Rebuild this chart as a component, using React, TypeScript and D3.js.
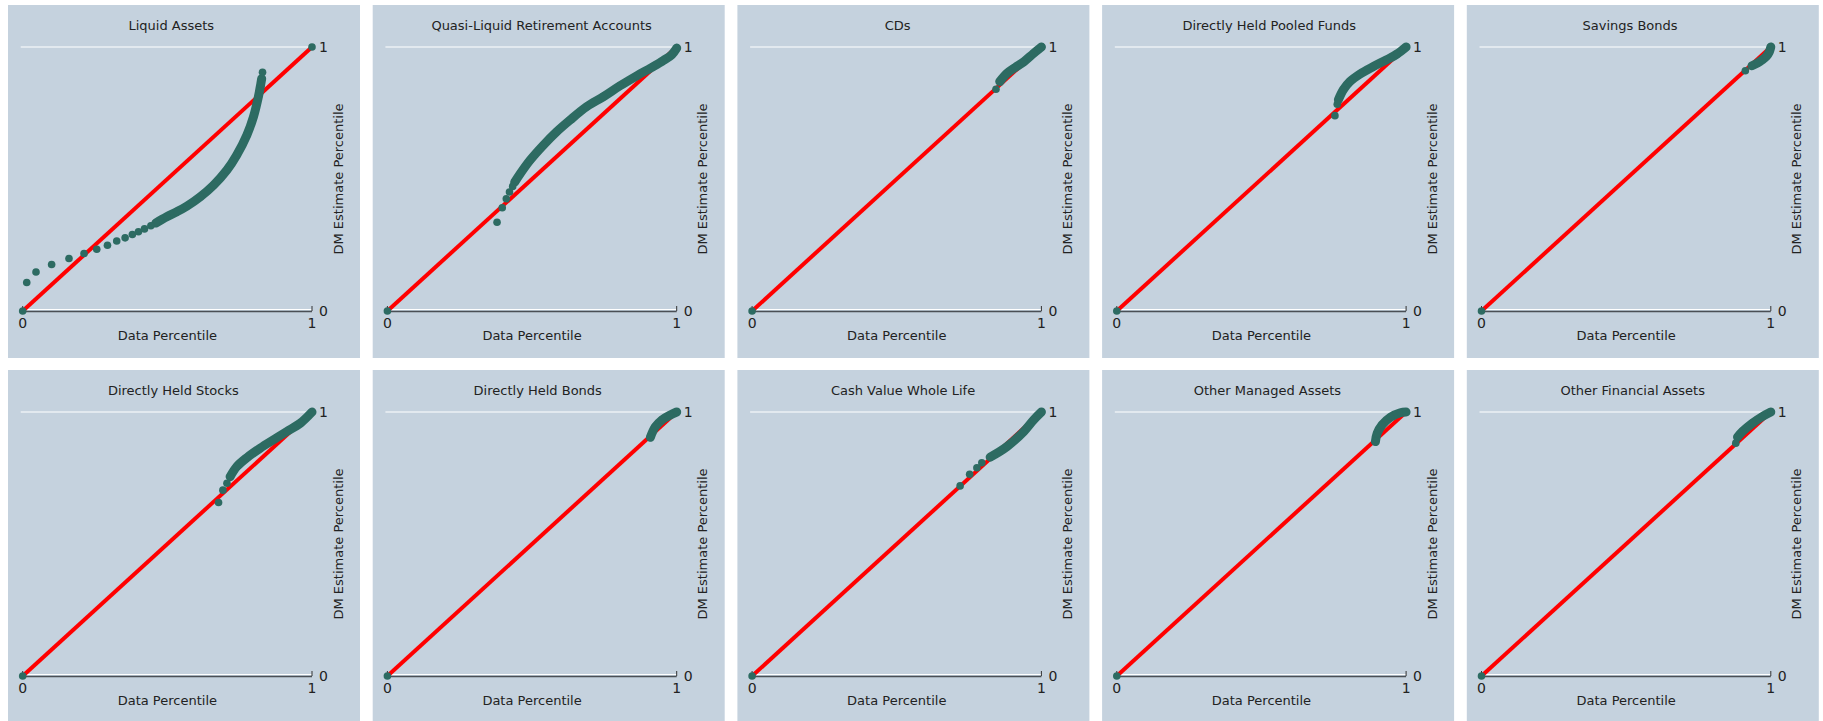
import React from "react";
import * as d3 from "d3";

type Pt = [number, number];

const titles = [
  "Liquid Assets",
  "Quasi-Liquid Retirement Accounts",
  "CDs",
  "Directly Held Pooled Funds",
  "Savings Bonds",
  "Directly Held Stocks",
  "Directly Held Bonds",
  "Cash Value Whole Life",
  "Other Managed Assets",
  "Other Financial Assets",
];

const xTicks = [0, 1];
const yTicks = [0, 1];

// sparse dots and dense runs (data pct, DM estimate pct)
const liquidSparse: Pt[] = [
  [0, 0], [0.014, 0.108], [0.046, 0.148], [0.1, 0.176], [0.16, 0.199], [0.212, 0.218],
  [0.256, 0.234], [0.293, 0.249], [0.325, 0.265], [0.354, 0.277], [0.379, 0.29],
  [0.4, 0.3], [0.421, 0.311], [0.443, 0.323], [0.829, 0.904], [1, 1],
];
const liquidDense: Pt[] = [
  [0.46, 0.333], [0.498, 0.357], [0.533, 0.376], [0.567, 0.397], [0.614, 0.433],
  [0.66, 0.477], [0.706, 0.534], [0.74, 0.591], [0.775, 0.667], [0.798, 0.737],
  [0.815, 0.813], [0.823, 0.86], [0.826, 0.88],
];

const quasiSparse: Pt[] = [
  [0, 0], [0.379, 0.336], [0.397, 0.391], [0.411, 0.425], [0.422, 0.451], [0.433, 0.472],
];
const quasiDense: Pt[] = [
  [0.44, 0.488], [0.459, 0.52], [0.493, 0.571], [0.539, 0.628], [0.585, 0.679],
  [0.631, 0.723], [0.689, 0.774], [0.747, 0.812], [0.804, 0.853], [0.862, 0.891],
  [0.919, 0.926], [0.954, 0.949], [0.983, 0.971], [1, 0.996],
];

const cdsSparse: Pt[] = [[0, 0], [0.843, 0.84]];
const cdsDense: Pt[] = [
  [0.856, 0.869], [0.881, 0.9], [0.91, 0.923], [0.939, 0.944], [0.973, 0.976], [1, 1],
];

const pooledSparse: Pt[] = [[0, 0], [0.754, 0.74], [0.762, 0.783]];
const pooledDense: Pt[] = [
  [0.766, 0.8], [0.783, 0.838], [0.806, 0.869], [0.841, 0.898], [0.887, 0.926],
  [0.933, 0.952], [0.968, 0.973], [1, 1],
];

const savingsSparse: Pt[] = [[0, 0], [0.912, 0.91]];
const savingsDense: Pt[] = [
  [0.935, 0.929], [0.955, 0.94], [0.97, 0.951], [0.985, 0.965], [0.995, 0.982], [1, 1],
];

const stocksSparse: Pt[] = [[0, 0], [0.677, 0.657], [0.692, 0.704], [0.706, 0.73]];
const stocksDense: Pt[] = [
  [0.717, 0.755], [0.74, 0.793], [0.775, 0.827], [0.821, 0.863], [0.867, 0.895],
  [0.913, 0.926], [0.96, 0.958], [1, 1],
];

const bondsSparse: Pt[] = [[0, 0]];
const bondsDense: Pt[] = [
  [0.909, 0.904], [0.926, 0.944], [0.949, 0.97], [0.978, 0.989], [1, 1],
];

const cashSparse: Pt[] = [
  [0, 0], [0.719, 0.72], [0.752, 0.764], [0.777, 0.789], [0.794, 0.808],
];
const cashDense: Pt[] = [
  [0.823, 0.829], [0.881, 0.869], [0.939, 0.926], [0.973, 0.97], [1, 1],
];

const managedSparse: Pt[] = [[0, 0]];
const managedDense: Pt[] = [
  [0.894, 0.888], [0.9, 0.919], [0.917, 0.951], [0.946, 0.98], [0.98, 0.997], [1, 1],
];

const otherSparse: Pt[] = [[0, 0], [0.879, 0.882]];
const otherDense: Pt[] = [
  [0.885, 0.905], [0.902, 0.926], [0.937, 0.958], [0.971, 0.983], [1, 1],
];

const sparseSets = [
  liquidSparse, quasiSparse, cdsSparse, pooledSparse, savingsSparse,
  stocksSparse, bondsSparse, cashSparse, managedSparse, otherSparse,
];
const denseSets = [
  liquidDense, quasiDense, cdsDense, pooledDense, savingsDense,
  stocksDense, bondsDense, cashDense, managedDense, otherDense,
];

const W = 1823;
const H = 721;
const panelW = 352;
const panelH = 353;
const colStep = 364.7;
const rowStep = 365;
const font = "'DejaVu Sans', Verdana, sans-serif";
const dotColor = "#2d6b62";

function Panel({ title, sparse, dense, left, top }: {
  title: string; sparse: Pt[]; dense: Pt[]; left: number; top: number;
}) {
  const x = d3.scaleLinear().domain([0, 1]).range([14.7, 304]);
  const y = d3.scaleLinear().domain([0, 1]).range([306, 42]);
  const line = d3.line<Pt>().x(d => x(d[0])).y(d => y(d[1])).curve(d3.curveCatmullRom);
  const cx = (x(0) + x(1)) / 2;

  return (
    <g transform={`translate(${left},${top})`}>
      <rect width={panelW} height={panelH} fill="#c5d2de" />
      <text x={cx + title.length * 0.3} y={24.5} textAnchor="middle" fontSize={13} fill="#222">
        {title}
      </text>
      {yTicks.map(t => (
        <line key={t} x1={x(0) - 2} x2={x(1)} y1={y(t) - (t === 0 ? 1.5 : 0)} y2={y(t) - (t === 0 ? 1.5 : 0)}
          stroke="#fff" strokeWidth={1.2} />
      ))}
      <line x1={x(0)} x2={x(1)} y1={y(0) + 0.5} y2={y(0) + 0.5} stroke="#4a4f55" strokeWidth={1.6} />
      {xTicks.map(t => (
        <g key={t}>
          <line x1={x(t)} x2={x(t)} y1={y(0)} y2={y(0) - 5} stroke="#333" strokeWidth={1} />
          <text x={x(t)} y={y(0) + 17} textAnchor="middle" fontSize={14} fill="#222">{t}</text>
        </g>
      ))}
      {yTicks.map(t => (
        <text key={t} x={x(1) + 7} y={y(t)} dominantBaseline="central" fontSize={14} fill="#222">{t}</text>
      ))}
      <text x={cx} y={y(0) + 28.5} textAnchor="middle" fontSize={13} fill="#222">Data Percentile</text>
      <text transform={`translate(${x(1) + 26},${(y(0) + y(1)) / 2}) rotate(-90)`} textAnchor="middle"
        dominantBaseline="central" fontSize={13} fill="#222">DM Estimate Percentile</text>
      <line x1={x(0)} y1={y(0)} x2={x(1)} y2={y(1)} stroke="#ff0000" strokeWidth={4} />
      <path d={line(dense) || ""} fill="none" stroke={dotColor} strokeWidth={9}
        strokeLinecap="round" strokeLinejoin="round" />
      {dense.concat(sparse).map((d, i) => (
        <circle key={i} cx={x(d[0])} cy={y(d[1])} r={3.8} fill={dotColor} />
      ))}
    </g>
  );
}

export default function App() {
  return (
    <svg width={W} height={H} style={{ position: "absolute", left: 0, top: 0, background: "#fff" }}
      fontFamily={font}>
      {titles.map((t, i) => (
        <Panel key={t} title={t} sparse={sparseSets[i]} dense={denseSets[i]}
          left={8 + (i % 5) * colStep} top={5 + Math.floor(i / 5) * rowStep} />
      ))}
    </svg>
  );
}
